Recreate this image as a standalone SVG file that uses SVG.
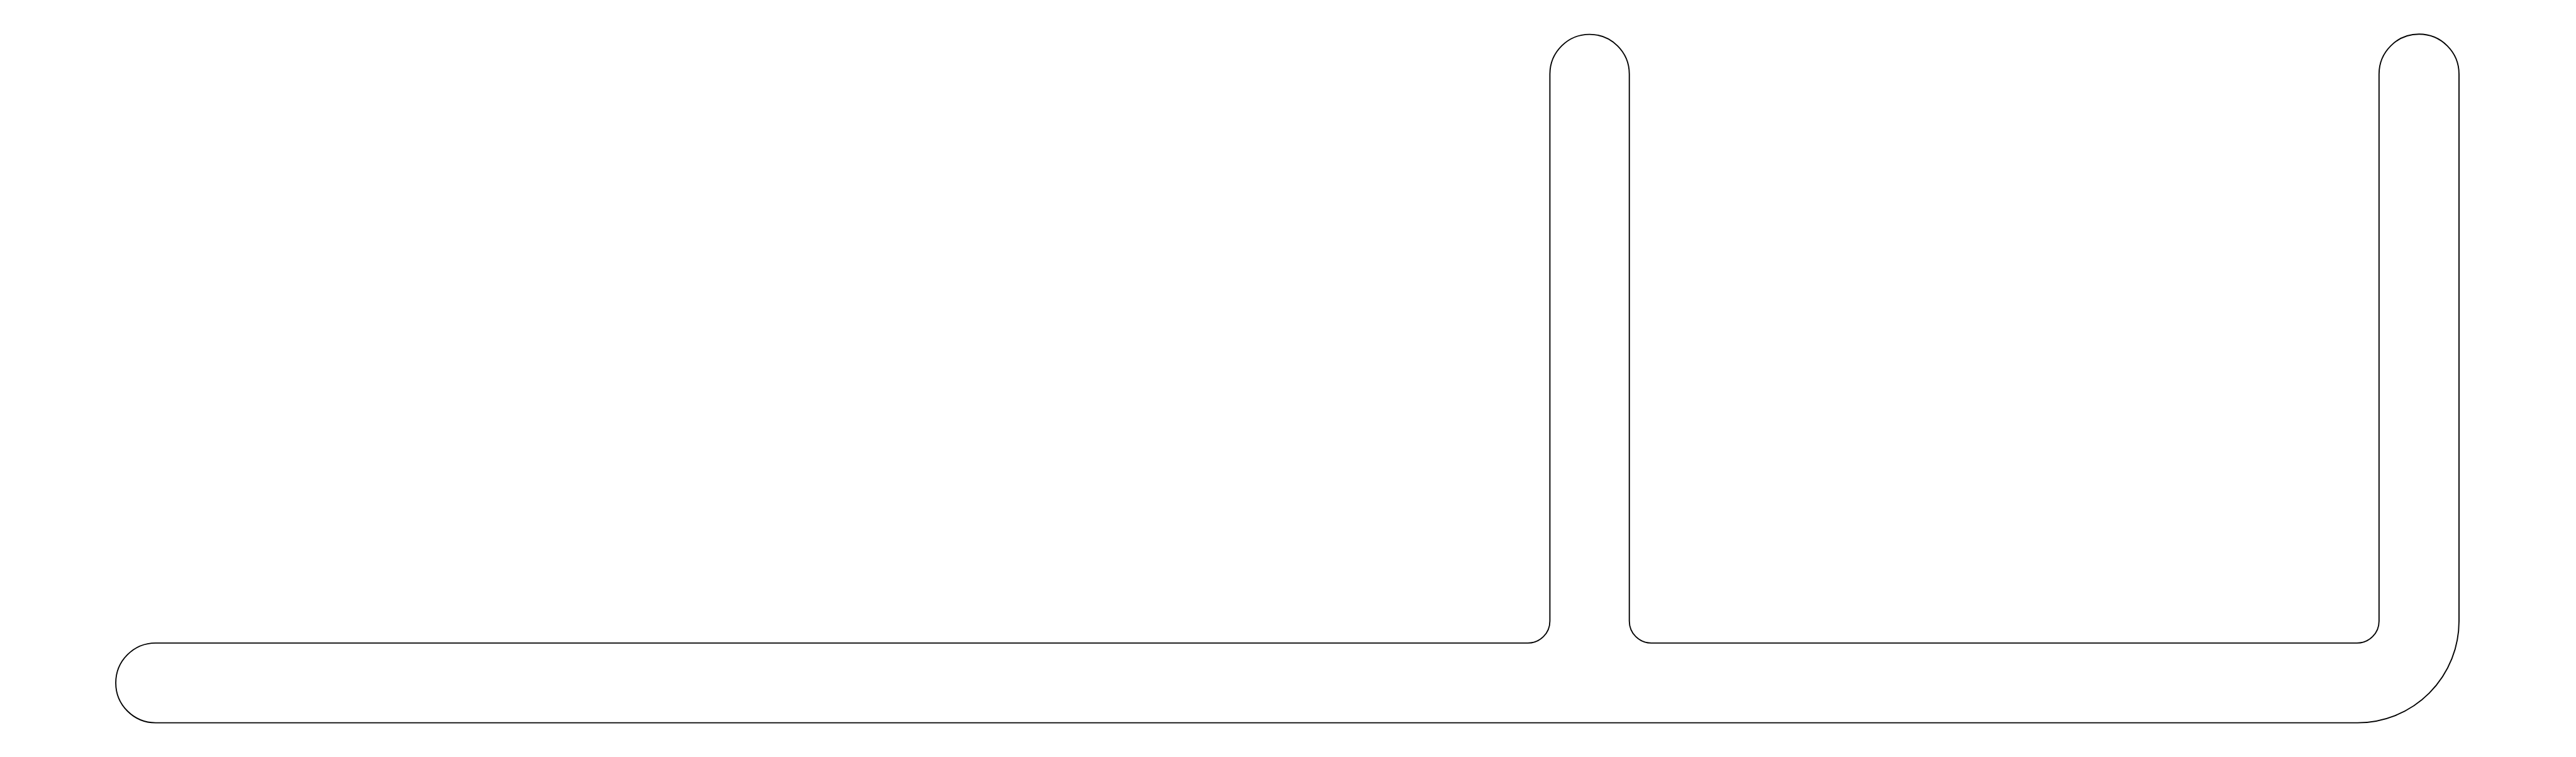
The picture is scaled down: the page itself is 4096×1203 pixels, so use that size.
<svg xmlns="http://www.w3.org/2000/svg" width="4096" height="1203" viewBox="0 0 4096 1203">
<style>
.outline{fill:#ffffff;stroke:#000000;stroke-width:2.2;stroke-linejoin:round}
</style>
<rect x="0" y="0" width="4096" height="1203" fill="#ffffff"/>
<g id="shape" transform="scale(0.853333)">
<path class="outline" d="M 290,1197.5 L 2847,1197.5 A 41,41 0 0 0 2888,1156.5 L 2888,138 A 74,74 0 0 1 3036,138 L 3036,1156.5 A 41,41 0 0 0 3077,1197.5 L 4392,1197.5 A 41,41 0 0 0 4433,1156.5 L 4433,138 A 74.5,74.5 0 0 1 4582,138 L 4582,1157 A 189,189 0 0 1 4393,1346 L 290,1346 A 74.25,74.25 0 0 1 290,1197.5 Z"/>
</g>
</svg>
